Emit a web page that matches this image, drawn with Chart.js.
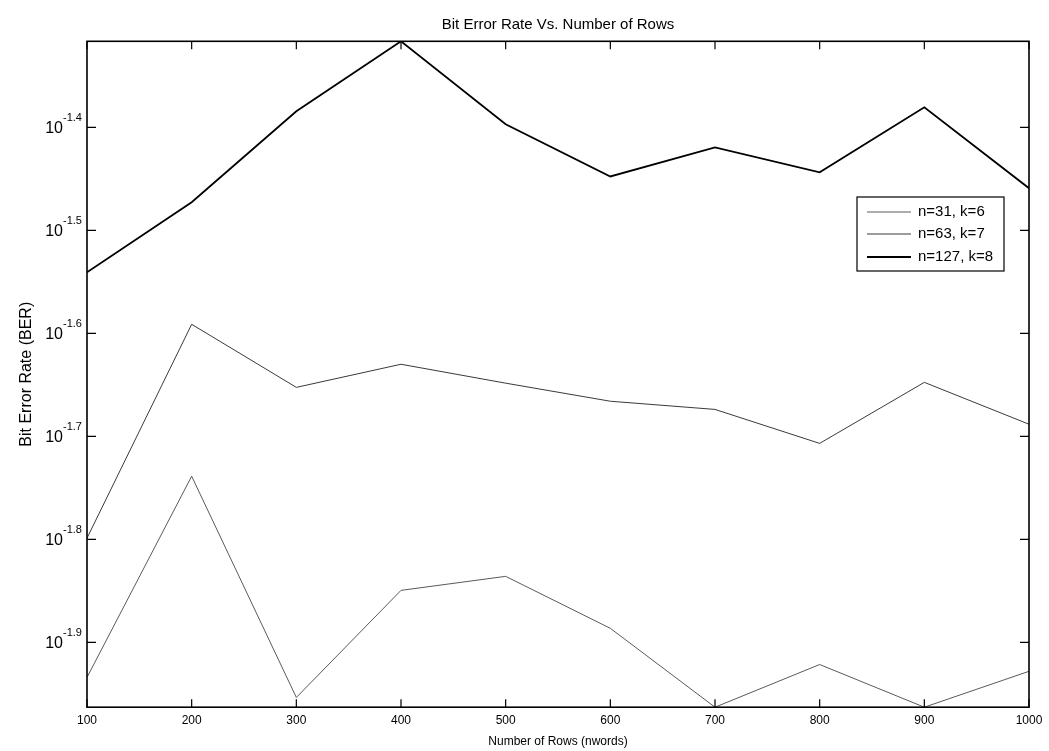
<!DOCTYPE html>
<html>
<head>
<meta charset="utf-8">
<script src="https://cdn.jsdelivr.net/npm/chart.js@4.4.1/dist/chart.umd.min.js"></script>
<style>
html, body { margin: 0; padding: 0; background: #fff; }
#wrap { width: 1049px; height: 751px; position: relative; }
</style>
</head>
<body>
<div id="wrap"><canvas id="berChart"></canvas></div>
<script>
// data
const rows = [100, 200, 300, 400, 500, 600, 700, 800, 900, 1000];
const ber_n31 = [0.01164, 0.01825, 0.01113, 0.01414, 0.01459, 0.01299, 0.01089, 0.01198, 0.01089, 0.01180];
const ber_n63 = [0.01589, 0.02563, 0.02226, 0.02344, 0.02247, 0.02158, 0.02119, 0.01964, 0.02251, 0.02050];
const ber_n127 = [0.02879, 0.03367, 0.04126, 0.04825, 0.04008, 0.03567, 0.03807, 0.03600, 0.04163, 0.03474];
const seriesNames = ['n=31, k=6', 'n=63, k=7', 'n=127, k=8'];
const yTickExps = [-1.9, -1.8, -1.7, -1.6, -1.5, -1.4];
const yTickLabels = ['-1.9', '-1.8', '-1.7', '-1.6', '-1.5', '-1.4'];

const FONT = '"Liberation Sans", Arial, sans-serif';
const colors = ['#5a5a5a', '#3a3a3a', '#000000'];
const widths = [1, 1, 1.8];

// matlab-ish box, inward ticks, 10^x labels, y title and legend
const matlabAxes = {
    id: 'matlabAxes',
    afterDraw(chart) {
        const ctx = chart.ctx;
        const a = chart.chartArea;
        const xs = chart.scales.x;
        const ys = chart.scales.y;
        ctx.save();
        ctx.strokeStyle = '#000';
        ctx.lineWidth = 1.6;
        ctx.strokeRect(a.left, a.top, a.right - a.left, a.bottom - a.top);

        ctx.lineWidth = 1.2;
        ctx.beginPath();
        for (let i = 0; i < rows.length; i++) {
            const px = xs.getPixelForValue(rows[i]);
            ctx.moveTo(px, a.bottom); ctx.lineTo(px, a.bottom - 8);
            ctx.moveTo(px, a.top); ctx.lineTo(px, a.top + 8);
        }
        for (let i = 0; i < yTickExps.length; i++) {
            const py = ys.getPixelForValue(Math.pow(10, yTickExps[i]));
            ctx.moveTo(a.left, py); ctx.lineTo(a.left + 9, py);
            ctx.moveTo(a.right, py); ctx.lineTo(a.right - 9, py);
        }
        ctx.stroke();

        // y tick labels as 10 with exponent
        ctx.fillStyle = '#000';
        for (let i = 0; i < yTickExps.length; i++) {
            const py = ys.getPixelForValue(Math.pow(10, yTickExps[i]));
            ctx.font = '16px ' + FONT;
            ctx.textAlign = 'right';
            ctx.textBaseline = 'middle';
            ctx.fillText('10', 63, py + 1);
            ctx.font = '11px ' + FONT;
            ctx.textAlign = 'left';
            ctx.fillText(yTickLabels[i], 63, py - 9);
        }

        // y axis title
        ctx.save();
        ctx.translate(27, (a.top + a.bottom) / 2);
        ctx.rotate(-Math.PI / 2);
        ctx.font = '16px ' + FONT;
        ctx.textAlign = 'center';
        ctx.textBaseline = 'middle';
        ctx.fillText('Bit Error Rate (BER)', 0, 0);
        ctx.restore();

        // legend
        const lx = 857, ly = 197, lw = 147, lh = 74;
        ctx.fillStyle = '#fff';
        ctx.fillRect(lx, ly, lw, lh);
        ctx.strokeStyle = '#000';
        ctx.lineWidth = 1.2;
        ctx.strokeRect(lx, ly, lw, lh);
        const rowY = [212, 234, 257];
        for (let i = 0; i < seriesNames.length; i++) {
            ctx.strokeStyle = colors[i];
            ctx.lineWidth = widths[i];
            ctx.beginPath();
            ctx.moveTo(867, rowY[i]); ctx.lineTo(911, rowY[i]);
            ctx.stroke();
            ctx.fillStyle = '#000';
            ctx.font = '15px ' + FONT;
            ctx.textAlign = 'left';
            ctx.textBaseline = 'middle';
            ctx.fillText(seriesNames[i], 918, rowY[i]);
        }
        ctx.restore();
    }
};

const ctx = document.getElementById('berChart').getContext('2d');

const berChart = new Chart(ctx, {
    type: 'line',
    data: {
        datasets: [
            { label: seriesNames[0], data: rows.map((r, i) => ({x: r, y: ber_n31[i]})), borderColor: colors[0], borderWidth: widths[0] },
            { label: seriesNames[1], data: rows.map((r, i) => ({x: r, y: ber_n63[i]})), borderColor: colors[1], borderWidth: widths[1] },
            { label: seriesNames[2], data: rows.map((r, i) => ({x: r, y: ber_n127[i]})), borderColor: colors[2], borderWidth: widths[2] }
        ]
    },
    options: {
        responsive: true,
        maintainAspectRatio: false,
        animation: false,
        devicePixelRatio: 1,
        elements: {
            point: { radius: 0 },
            line: { tension: 0, fill: false }
        },
        layout: { padding: { left: 87, right: 20, top: 0, bottom: 0 } },
        scales: {
            x: {
                type: 'linear',
                min: 100,
                max: 1000,
                grid: { display: false, drawTicks: false },
                border: { display: false },
                ticks: {
                    stepSize: 100,
                    padding: 6,
                    color: '#000',
                    font: { family: FONT, size: 12 },
                    maxRotation: 0,
                    callback: (v) => String(v)
                },
                title: {
                    display: true,
                    text: 'Number of Rows (nwords)',
                    color: '#000',
                    font: { family: FONT, size: 12 },
                    padding: { top: 1, bottom: 2 }
                }
            },
            y: {
                type: 'logarithmic',
                min: 0.01089,
                max: 0.04825,
                grid: { display: false, drawTicks: false },
                border: { display: false },
                ticks: { display: false }
            }
        },
        plugins: {
            legend: { display: false },
            tooltip: { enabled: false },
            title: {
                display: true,
                text: 'Bit Error Rate Vs. Number of Rows',
                color: '#000',
                font: { family: FONT, size: 15, weight: 'normal' },
                padding: { top: 16, bottom: 7.3 }
            }
        }
    },
    plugins: [matlabAxes]
});
</script>
</body>
</html>
